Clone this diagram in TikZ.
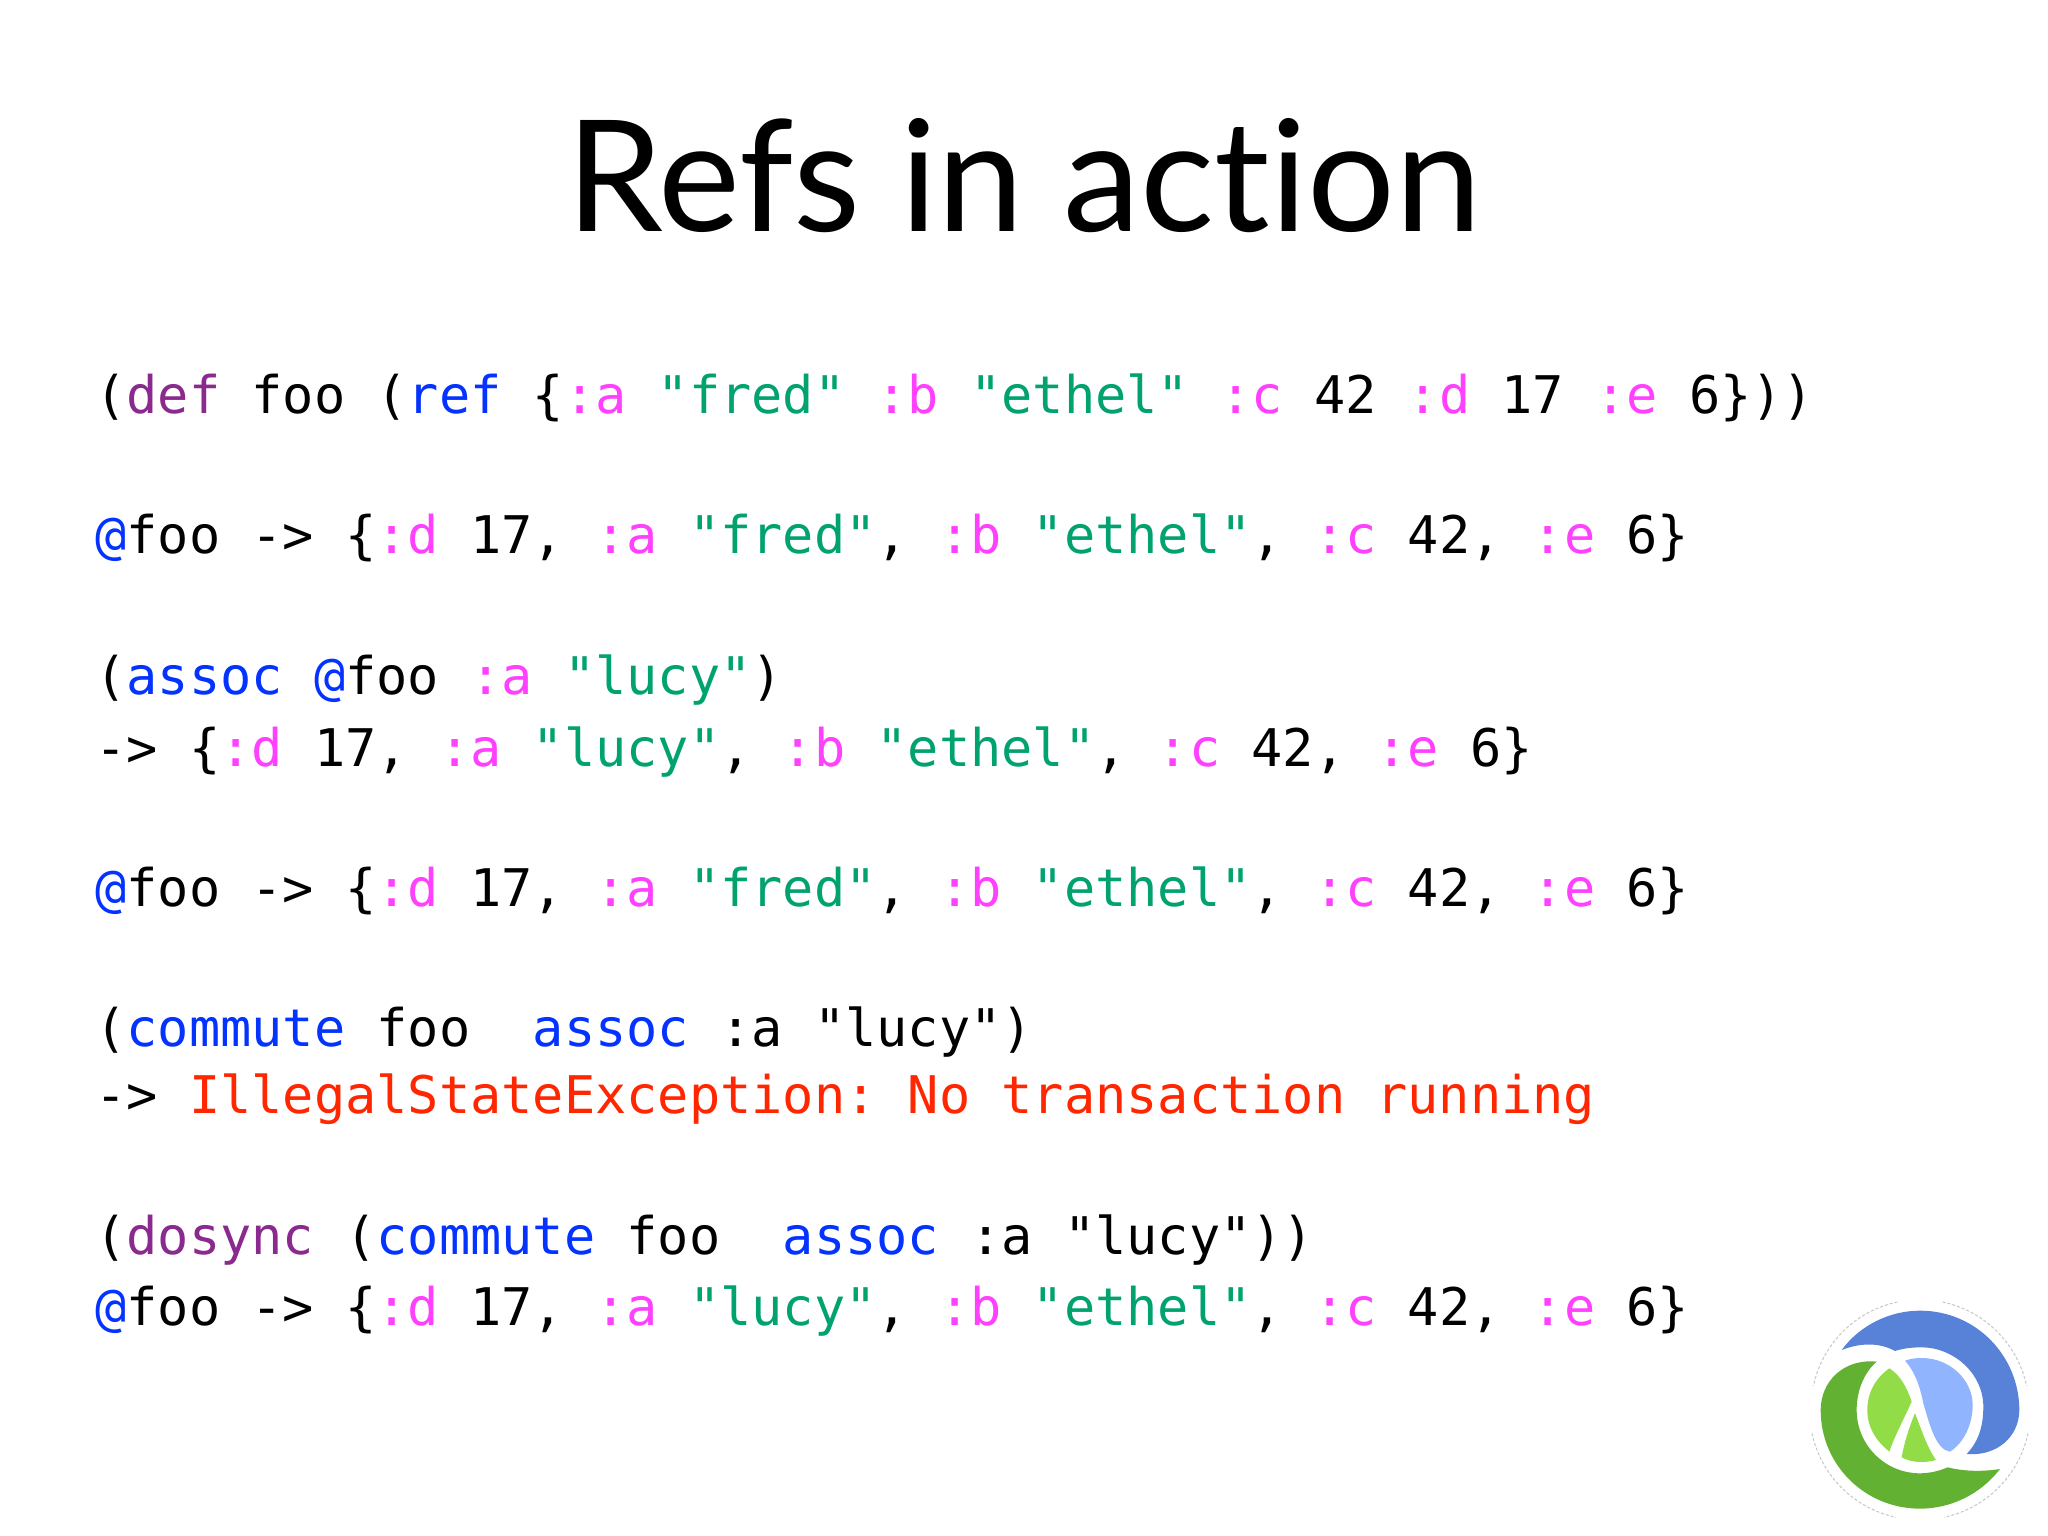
\documentclass[tikz,border=0pt]{standalone}
\usepackage{fontspec}
\setmainfont[Ligatures=NoCommon]{Lato}
\newfontfamily\cdfont{DejaVu Sans Mono}
\frenchspacing
\definecolor{kwp}{HTML}{8A2A8E}
\definecolor{kwb}{HTML}{0433FF}
\definecolor{kwm}{HTML}{FF40FF}
\definecolor{kwg}{HTML}{00A36F}
\definecolor{kwr}{HTML}{FF2600}
\definecolor{logoblue}{HTML}{5881D8}
\definecolor{logolb}{HTML}{91B4FF}
\definecolor{logolg}{HTML}{91DC47}
\definecolor{logog}{HTML}{63B132}
\newcommand{\Kp}[1]{\textcolor{kwp}{#1}}
\newcommand{\Kb}[1]{\textcolor{kwb}{#1}}
\newcommand{\Km}[1]{\textcolor{kwm}{#1}}
\newcommand{\Kg}[1]{\textcolor{kwg}{#1}}
\newcommand{\Kr}[1]{\textcolor{kwr}{#1}}
\newcommand{\MapFred}{\{\Km{:d} 17, \Km{:a} \Kg{"fred"}, \Km{:b} \Kg{"ethel"}, \Km{:c} 42, \Km{:e} 6\}}
\newcommand{\MapLucy}{\{\Km{:d} 17, \Km{:a} \Kg{"lucy"}, \Km{:b} \Kg{"ethel"}, \Km{:c} 42, \Km{:e} 6\}}
\tikzset{
  codeline/.style={inner sep=0pt,outer sep=0pt,anchor=base west,font=\cdfont\fontsize{51.9}{60}\selectfont},
  titletext/.style={inner sep=0pt,outer sep=0pt,anchor=base,font=\fontsize{155}{180}\selectfont},
  logoring/.style={gray!45,line width=1pt,dash pattern=on 3pt off 2pt}
}
\begin{document}
\begin{tikzpicture}[x=1pt,y=-1pt]
\useasboundingbox[fill=white] (0,0) rectangle (2048,1536);
\node[titletext] (title) at (1024,231) {Refs in action};
\node[codeline] (l1) at (95.5,413) {(\Kp{def} foo (\Kb{ref} \{\Km{:a} \Kg{"fred"} \Km{:b} \Kg{"ethel"} \Km{:c} 42 \Km{:d} 17 \Km{:e} 6\}))};
\node[codeline] (l2) at (95.5,553) {\Kb{@}foo -> \MapFred};
\node[codeline] (l3) at (95.5,694) {(\Kb{assoc} \Kb{@}foo \Km{:a} \Kg{"lucy"})};
\node[codeline] (l4) at (95.5,766) {-> \MapLucy};
\node[codeline] (l5) at (95.5,906) {\Kb{@}foo -> \MapFred};
\node[codeline] (l6) at (95.5,1046) {(\Kb{commute} foo~~\Kb{assoc} :a "lucy")};
\node[codeline] (l7) at (95.5,1113) {-> \Kr{IllegalStateException: No transaction running}};
\node[codeline] (l8) at (95.5,1254) {(\Kp{dosync} (\Kb{commute} foo~~\Kb{assoc} :a "lucy"))};
\node[codeline] (l9) at (95.5,1325) {\Kb{@}foo -> \MapLucy};
\begin{scope}[shift={(1780,1270)},x=0.3333pt,y=-0.3333pt]
  \draw[logoring] (352,96) arc[start angle=-102,end angle=-168,radius=327];
  \draw[logoring] (488,96) arc[start angle=-78,end angle=-12,radius=327];
  \draw[logoring] (96,490) arc[start angle=168,end angle=102,radius=327];
  \draw[logoring] (744,490) arc[start angle=12,end angle=78,radius=327];
  \fill[logoblue] (185,240) .. controls (240,165) and (330,122) .. (420,122)
     .. controls (590,122) and (718,260) .. (718,420)
     .. controls (718,500) and (650,560) .. (560,552)
     .. controls (600,510) and (610,460) .. (610,410)
     .. controls (610,310) and (520,232) .. (425,232)
     .. controls (395,232) and (370,235) .. (345,243)
     .. controls (295,215) and (235,220) .. (185,240) -- cycle;
  \fill[logolb] (375,272) .. controls (395,265) and (410,264) .. (425,264)
     .. controls (510,264) and (578,330) .. (578,405)
     .. controls (578,465) and (550,520) .. (510,545)
     .. controls (470,540) and (450,470) .. (430,400)
     .. controls (420,350) and (405,305) .. (375,272) -- cycle;
  \fill[logolg] (328,295) .. controls (360,315) and (380,350) .. (395,395)
     .. controls (375,440) and (345,495) .. (328,545)
     .. controls (285,510) and (262,470) .. (262,420)
     .. controls (262,370) and (285,325) .. (328,295) -- cycle;
  \fill[logolg] (405,430) .. controls (425,480) and (440,530) .. (468,570)
     .. controls (430,580) and (395,578) .. (365,562)
     .. controls (372,520) and (388,470) .. (405,430) -- cycle;
  \fill[logog] (290,275) .. controls (250,310) and (230,365) .. (230,420)
     .. controls (230,525) and (315,610) .. (420,610)
     .. controls (450,610) and (480,602) .. (503,592)
     .. controls (555,605) and (610,605) .. (660,597)
     .. controls (600,675) and (510,716) .. (420,716)
     .. controls (255,716) and (122,585) .. (122,420)
     .. controls (122,335) and (190,265) .. (290,275) -- cycle;
\end{scope}
\end{tikzpicture}
\end{document}
